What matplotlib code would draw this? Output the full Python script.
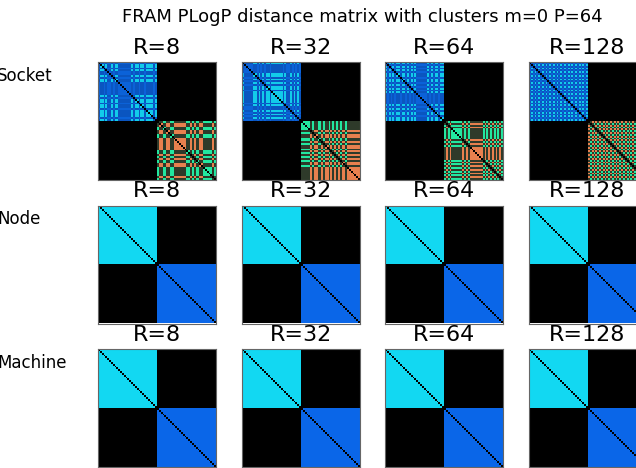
import numpy as np
import matplotlib
matplotlib.use("Agg")
import matplotlib.pyplot as plt
from matplotlib.colors import ListedColormap

P = 64
R_values = [8, 32, 64, 128]
levels = ["Socket", "Node", "Machine"]

# node of each rank (first half / second half)
node_of_rank = [0] * 32 + [1] * 32

# socket cluster of each rank, one string per R (0/1 on node 0, 2/3 on node 1)
socket_r8 = ("01101001" "01100000" "00101101" "10111101"
             "32233223" "32222222" "33232332" "23333323")
socket_r32 = ("10000011" "01010110" "11111101" "00101010"
              "33333232" "23323223" "23232322" "32222222")
socket_r64 = ("10101011" "01101010" "10000001" "01011011"
              "32323333" "33232322" "22222323" "23232323")
socket_r128 = ("01010101" "01010101" "01010101" "01010101"
               "23232323" "23232323" "23232323" "23232323")
socket_clusters = [socket_r8, socket_r32, socket_r64, socket_r128]

# node / machine clusters are the two halves for every R
node_clusters = "0" * 32 + "1" * 32
machine_clusters = "0" * 32 + "1" * 32

socket_colors = ["#0b62d8", "#12cbea", "#e8804e", "#22e8a0"]
# pairs on the same node but in different sockets
mixed_colors = ["#0a55c0", "#2e3a2a"]
node_colors = ["#12d8f2", "#0a66e8"]


def cluster_matrix(labels, ncl):
    lab = np.array([int(c) for c in labels])
    node = np.array(node_of_rank)
    m = np.zeros((P, P), dtype=int)
    same_node = node[:, None] == node[None, :]
    same = lab[:, None] == lab[None, :]
    m[same] = lab[np.nonzero(same)[0]] + 1
    if ncl == 4:
        mixed = same_node & ~same
        m[mixed] = 5 + node[np.nonzero(mixed)[0]]
    np.fill_diagonal(m, 0)
    return m


socket_cmap = ListedColormap(["black"] + socket_colors + mixed_colors)
node_cmap = ListedColormap(["black"] + node_colors)

fig = plt.figure(figsize=(6.36, 4.68), dpi=100)
fig.suptitle("FRAM PLogP distance matrix with clusters m=0 P=64",
             fontsize=13, x=0.569, y=0.982)

W, H = 636.0, 468.0
size = 118
for r, level in enumerate(levels):
    top = 62 + r * 143.5
    for c, R in enumerate(R_values):
        left = 98 + c * 143.5
        ax = fig.add_axes([left / W, 1 - (top + size) / H, size / W, size / H])
        if level == "Socket":
            mat = cluster_matrix(socket_clusters[c], 4)
            ax.imshow(mat, cmap=socket_cmap, vmin=-0.5, vmax=6.5, interpolation="nearest")
        else:
            labels = node_clusters if level == "Node" else machine_clusters
            mat = cluster_matrix(labels, 2)
            ax.imshow(mat, cmap=node_cmap, vmin=-0.5, vmax=2.5, interpolation="nearest")
        ax.set_xticks([])
        ax.set_yticks([])
        for s in ax.spines.values():
            s.set_color("#666666")
        ax.set_title(f"R={R}", fontsize=16)
    fig.text(-3 / W, 1 - (top + 14) / H, level, fontsize=12, ha="left", va="center")

fig.savefig("out.png", dpi=100)
